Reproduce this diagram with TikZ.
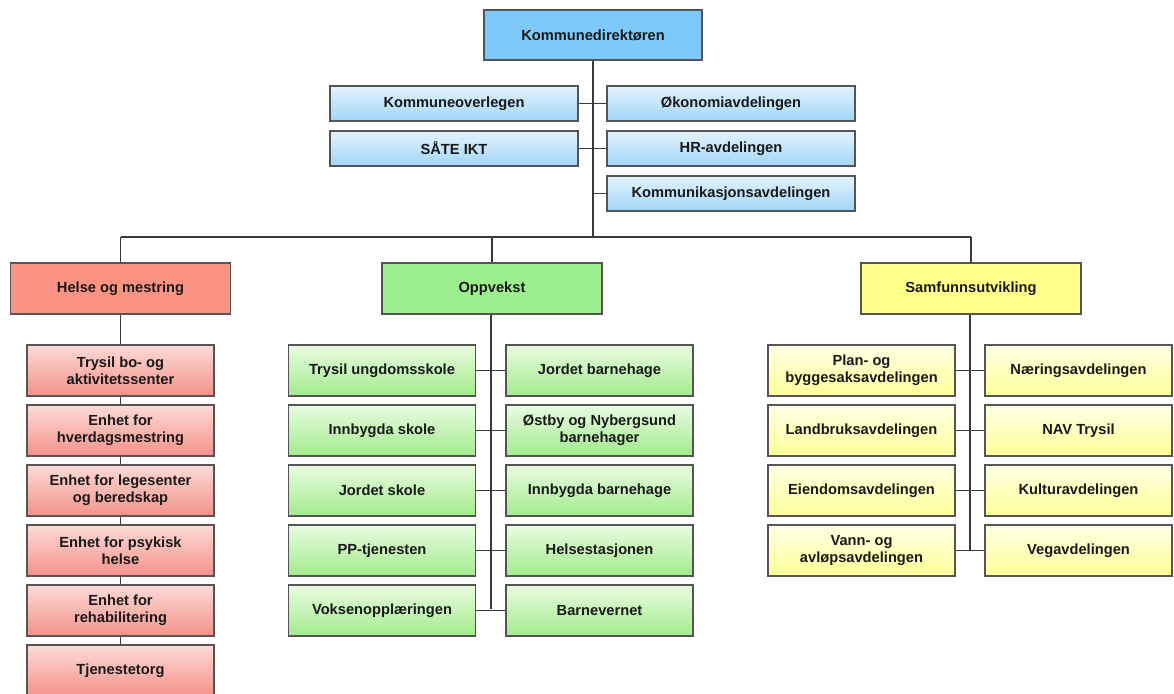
\documentclass[tikz,border=0pt]{standalone}
\usepackage{fontspec}
\setmainfont{Liberation Sans}
\begin{document}
\begin{tikzpicture}[x=0.75pt,y=-0.75pt,
  base/.style={draw=boxline,line width=1.1pt,align=center,inner sep=1pt,
    font=\bfseries\fontsize{11}{12.8}\selectfont,text=black!90,anchor=center},
  topbox/.style={base,fill=blueH,minimum width=163.5pt,minimum height=37.5pt},
  bluebox/.style={base,top color=blueT,bottom color=blueB,minimum width=186pt,minimum height=26.25pt},
  headbox/.style={base,fill=#1,minimum width=165pt,minimum height=38.25pt},
  childbox/.style={base,minimum width=140.25pt,minimum height=38.25pt},
  redc/.style={childbox,top color=redT,bottom color=redB},
  greenc/.style={childbox,top color=greenT,bottom color=greenB},
  yelc/.style={childbox,top color=yelT,bottom color=yelB},
  conn/.style={draw=connc,line width=0.8pt}
]
\definecolor{boxline}{HTML}{555555}
\definecolor{connc}{HTML}{3A3A3A}
\definecolor{blueH}{HTML}{7DC9FB}
\definecolor{blueT}{HTML}{E4F3FD}
\definecolor{blueB}{HTML}{A2D5F8}
\definecolor{redH}{HTML}{FA9382}
\definecolor{redT}{HTML}{FDDAD6}
\definecolor{redB}{HTML}{F4928A}
\definecolor{greenH}{HTML}{9CEF8C}
\definecolor{greenT}{HTML}{E9FCE1}
\definecolor{greenB}{HTML}{A2EB8D}
\definecolor{yelH}{HTML}{FFFF8A}
\definecolor{yelT}{HTML}{FFFFE4}
\definecolor{yelB}{HTML}{FFFF98}

\useasboundingbox (0,0) rectangle (1174,693);

% top
\node[topbox] (dir) at (593,35) {Kommunedirektøren};
\node[bluebox] (ovl) at (454,103.5) {Kommuneoverlegen};
\node[bluebox] (oko) at (731,103.5) {Økonomiavdelingen};
\node[bluebox] (sate) at (454,148.5) {SÅTE IKT};
\node[bluebox] (hr) at (731,148.5) {HR-avdelingen};
\node[bluebox] (kom) at (731,193.5) {Kommunikasjonsavdelingen};

\coordinate (bus) at (593,237);
\coordinate (busL) at (120.5,237);
\coordinate (busM) at (492,237);
\coordinate (busR) at (971,237);

% heads
\node[headbox=redH] (hel) at (120.5,288.5) {Helse og mestring};
\node[headbox=greenH] (opp) at (492,288.5) {Oppvekst};
\node[headbox=yelH] (sam) at (971,288.5) {Samfunnsutvikling};

% Helse children
\node[redc] (h1) at (120.5,370.5) {Trysil bo- og\\aktivitetssenter};
\node[redc] (h2) at (120.5,430.5) {Enhet for\\hverdagsmestring};
\node[redc] (h3) at (120.5,490.5) {Enhet for legesenter\\og beredskap};
\node[redc] (h4) at (120.5,550.5) {Enhet for psykisk\\helse};
\node[redc] (h5) at (120.5,610.5) {Enhet for\\rehabilitering};
\node[redc] (h6) at (120.5,670.5) {Tjenestetorg};

% Oppvekst children
\node[greenc] (o1l) at (382,370.5) {Trysil ungdomsskole};
\node[greenc] (o2l) at (382,430.5) {Innbygda skole};
\node[greenc] (o3l) at (382,490.5) {Jordet skole};
\node[greenc] (o4l) at (382,550.5) {PP-tjenesten};
\node[greenc] (o5l) at (382,610.5) {Voksenopplæringen};
\node[greenc] (o1r) at (599.5,370.5) {Jordet barnehage};
\node[greenc] (o2r) at (599.5,430.5) {Østby og Nybergsund\\barnehager};
\node[greenc] (o3r) at (599.5,490.5) {Innbygda barnehage};
\node[greenc] (o4r) at (599.5,550.5) {Helsestasjonen};
\node[greenc] (o5r) at (599.5,610.5) {Barnevernet};
\coordinate (oend) at (491,609);

% Samfunn children
\node[yelc] (s1l) at (861.5,370.5) {Plan- og\\byggesaksavdelingen};
\node[yelc] (s2l) at (861.5,430.5) {Landbruksavdelingen};
\node[yelc] (s3l) at (861.5,490.5) {Eiendomsavdelingen};
\node[yelc] (s4l) at (861.5,550.5) {Vann- og\\avløpsavdelingen};
\node[yelc] (s1r) at (1078.5,370.5) {Næringsavdelingen};
\node[yelc] (s2r) at (1078.5,430.5) {NAV Trysil};
\node[yelc] (s3r) at (1078.5,490.5) {Kulturavdelingen};
\node[yelc] (s4r) at (1078.5,550.5) {Vegavdelingen};
\coordinate (send) at (970,550);

% connectors
\draw[conn] (dir.south) -- (bus);
\draw[conn] (ovl.east) -- (oko.west);
\draw[conn] (sate.east) -- (hr.west);
\draw[conn] (kom.west) -- (kom.west -| dir.south);
\draw[conn] (busL) -- (busR);
\draw[conn] (busL) -- (hel.north);
\draw[conn] (busM) -- (opp.north);
\draw[conn] (busR) -- (sam.north);

\draw[conn] (hel.south) -- (h1.north);
\draw[conn] (h1.south) -- (h2.north);
\draw[conn] (h2.south) -- (h3.north);
\draw[conn] (h3.south) -- (h4.north);
\draw[conn] (h4.south) -- (h5.north);
\draw[conn] (h5.south) -- (h6.north);

\draw[conn] (opp.south -| oend) -- (oend);
\draw[conn] (o1l.east) -- (o1r.west);
\draw[conn] (o2l.east) -- (o2r.west);
\draw[conn] (o3l.east) -- (o3r.west);
\draw[conn] (o4l.east) -- (o4r.west);
\draw[conn] (o5l.east) -- (o5r.west);

\draw[conn] (sam.south -| send) -- (send);
\draw[conn] (s1l.east) -- (s1r.west);
\draw[conn] (s2l.east) -- (s2r.west);
\draw[conn] (s3l.east) -- (s3r.west);
\draw[conn] (s4l.east) -- (s4r.west);
\end{tikzpicture}
\end{document}
